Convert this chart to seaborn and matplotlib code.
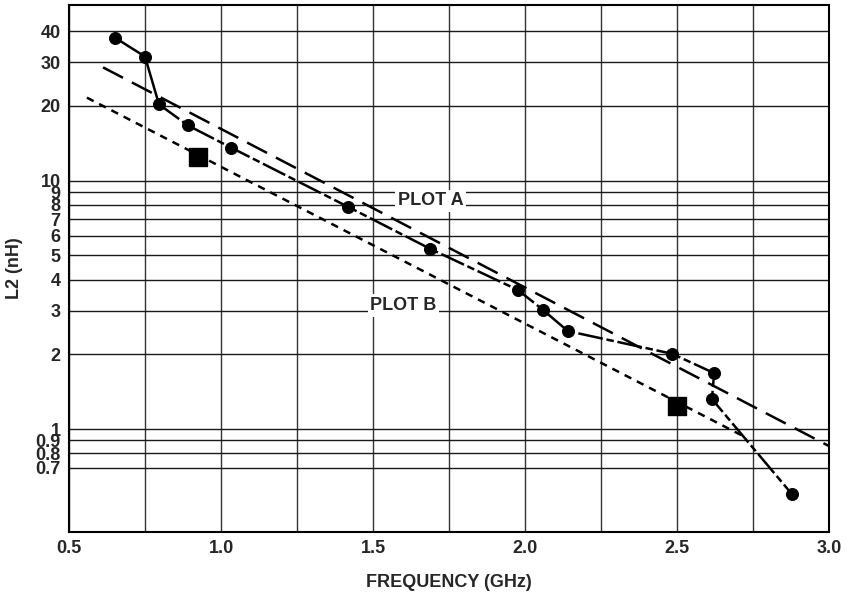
import pandas as pd
import seaborn as sns
import matplotlib.pyplot as plt

# measured L2 values (circles), connected in order
meas_freq = [0.651, 0.75, 0.796, 0.891, 1.033, 1.418, 1.688, 1.977, 2.059, 2.141, 2.484, 2.622, 2.615, 2.878]
meas_l2 = [37.7, 31.6, 20.3, 16.7, 13.6, 7.85, 5.32, 3.63, 3.02, 2.48, 2.01, 1.68, 1.32, 0.547]
# fitted lines
plot_a_freq = [0.612, 3.0]
plot_a_l2 = [28.6, 0.854]
plot_b_freq = [0.559, 2.73]
plot_b_l2 = [21.6, 0.92]
# square markers on plot B
sq_freq = [0.924, 2.5]
sq_l2 = [12.5, 1.24]

x_ticks = [0.5, 1.0, 1.5, 2.0, 2.5, 3.0]
x_grid = [0.5, 0.75, 1.0, 1.25, 1.5, 1.75, 2.0, 2.25, 2.5, 2.75, 3.0]
y_ticks = [0.7, 0.8, 0.9, 1, 2, 3, 4, 5, 6, 7, 8, 9, 10, 20, 30, 40]
y_labels = ["0.7", "0.8", "0.9", "1", "2", "3", "4", "5", "6", "7", "8", "9", "10", "20", "30", "40"]

sns.set_theme(style="white")
plt.rcParams['font.family'] = ['Liberation Sans', 'DejaVu Sans']
plt.rcParams['font.weight'] = 'bold'

fig = plt.figure(figsize=(8.46, 5.97), dpi=100)
ax = fig.add_axes([69/846, 1-532/597, 760/846, 527/597])
ax.set_yscale("log")
ax.set_xlim(0.5, 3.0)
ax.set_ylim(0.385, 51)

# grid drawn as lines at chosen ticks
for gx in x_grid:
    ax.axvline(gx, color="#333333", lw=1.0, zorder=0)
for gy in y_ticks:
    ax.axhline(gy, color="#1a1a1a", lw=1.0, zorder=0)

black = "black"
sns.lineplot(x=plot_a_freq, y=plot_a_l2, ax=ax, color=black, lw=1.8,
             estimator=None, sort=False, zorder=3).lines[-1].set_dashes((9, 4))
sns.lineplot(x=plot_b_freq, y=plot_b_l2, ax=ax, color=black, lw=1.8,
             estimator=None, sort=False, zorder=3).lines[-1].set_dashes((3, 2.5))

meas = pd.DataFrame({"f": meas_freq, "l2": meas_l2})
sns.lineplot(data=meas.iloc[:3], x="f", y="l2", ax=ax, color=black, lw=1.8,
             estimator=None, sort=False, zorder=4)
sns.lineplot(data=meas.iloc[2:], x="f", y="l2", ax=ax, color=black, lw=1.8,
             estimator=None, sort=False, zorder=4).lines[-1].set_dashes((10, 1.5, 3, 1.5))
sns.scatterplot(data=meas, x="f", y="l2", ax=ax, color=black, s=75,
                marker="o", edgecolor=black, zorder=5)
sns.scatterplot(x=sq_freq, y=sq_l2, ax=ax, color=black, s=150,
                marker="s", edgecolor=black, zorder=5)

box = dict(facecolor="white", edgecolor="none", pad=2)
ax.text(1.69, 8.3, "PLOT A", ha="center", va="center", fontsize=13,
        fontweight="bold", bbox=box, zorder=6)
ax.text(1.6, 3.15, "PLOT B", ha="center", va="center", fontsize=13,
        fontweight="bold", bbox=box, zorder=6)

ax.set_xticks(x_ticks)
ax.set_xticklabels([f"{v:.1f}" for v in x_ticks])
ax.set_yticks(y_ticks)
ax.set_yticklabels(y_labels)
ax.minorticks_off()
ax.tick_params(axis="both", length=0, labelsize=13, pad=6)
for lab in ax.get_xticklabels() + ax.get_yticklabels():
    lab.set_fontweight("bold")
ax.set_xlabel("FREQUENCY (GHz)", fontsize=13, fontweight="bold", labelpad=12)
ax.set_ylabel("L2 (nH)", fontsize=13, fontweight="bold", labelpad=9)

for sp in ax.spines.values():
    sp.set_color(black)
    sp.set_linewidth(1.5)

fig.savefig("out.png", dpi=100)
